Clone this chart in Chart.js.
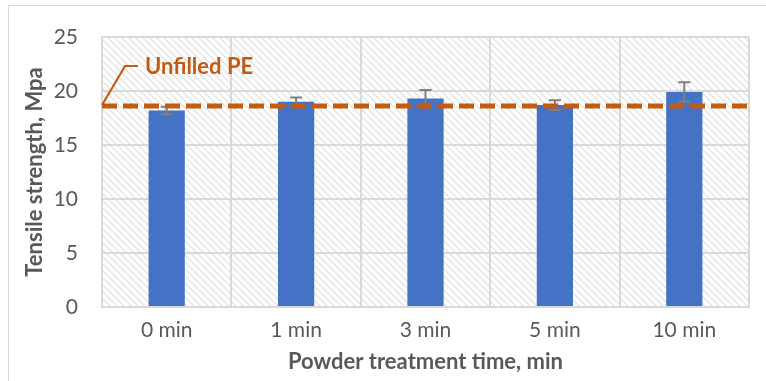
<!DOCTYPE html>
<html>
<head>
<meta charset="utf-8">
<script src="https://cdn.jsdelivr.net/npm/chart.js@4.4.1/dist/chart.umd.min.js"></script>
<style>
  html, body { margin: 0; padding: 0; background: #fff; }
  #wrap { position: relative; width: 766px; height: 381px; overflow: hidden; }
  #frame { position: absolute; left: 8px; top: 5px; width: 800px; height: 420px; border: 1px solid #d9d9d9; box-sizing: border-box; }
  #myChart { position: absolute; left: 0; top: 0; }
</style>
</head>
<body>
<div id="wrap">
  <div id="frame"></div>
  <canvas id="myChart" width="766" height="381"></canvas>
</div>
<script>
var categories = ['0 min', '1 min', '3 min', '5 min', '10 min'];
var strength = [18.2, 19.0, 19.3, 18.7, 19.9];
var strengthErr = [0.35, 0.4, 0.8, 0.45, 0.9];
var unfilledPE = 18.6;
var unfilledLabel = 'Unfilled PE';
var yTicks = [0, 5, 10, 15, 20, 25];

var gridColor = '#d9d9d9';
var textColor = '#595959';
var orange = '#c55a11';

function makeHatch() {
  var c = document.createElement('canvas');
  c.width = 7;
  c.height = 7;
  var g = c.getContext('2d');
  g.fillStyle = '#fff';
  g.fillRect(0, 0, 7, 7);
  g.strokeStyle = '#dedede';
  g.lineWidth = 1.2;
  g.beginPath();
  g.moveTo(-1, -1); g.lineTo(8, 8);
  g.moveTo(-1, 6); g.lineTo(1, 8);
  g.moveTo(6, -1); g.lineTo(8, 1);
  g.stroke();
  return c;
}

// hatched plot background
var hatchPlugin = {
  id: 'hatch',
  beforeDraw: function(chart) {
    var a = chart.chartArea;
    var ctx = chart.ctx;
    ctx.save();
    ctx.fillStyle = ctx.createPattern(makeHatch(), 'repeat');
    ctx.fillRect(a.left, a.top, a.right - a.left, a.bottom - a.top);
    ctx.restore();
  }
};

// error bars + unfilled PE reference line
var extrasPlugin = {
  id: 'extras',
  afterDatasetsDraw: function(chart) {
    var ctx = chart.ctx;
    var y = chart.scales.y;
    var a = chart.chartArea;
    var meta = chart.getDatasetMeta(0);

    ctx.save();
    ctx.strokeStyle = '#7f7f7f';
    ctx.lineWidth = 2;
    meta.data.forEach(function(bar, i) {
      var yt = y.getPixelForValue(strength[i] + strengthErr[i]);
      var yb = y.getPixelForValue(strength[i] - strengthErr[i]);
      ctx.beginPath();
      ctx.moveTo(bar.x, yt); ctx.lineTo(bar.x, yb);
      ctx.moveTo(bar.x - 6, yt); ctx.lineTo(bar.x + 6, yt);
      ctx.moveTo(bar.x - 6, yb); ctx.lineTo(bar.x + 6, yb);
      ctx.stroke();
    });

    var yl = y.getPixelForValue(unfilledPE);
    ctx.strokeStyle = orange;
    ctx.lineWidth = 5;
    ctx.setLineDash([15, 6]);
    ctx.beginPath();
    ctx.moveTo(a.left, yl);
    ctx.lineTo(a.right, yl);
    ctx.stroke();

    ctx.setLineDash([]);
    ctx.lineWidth = 2;
    ctx.beginPath();
    ctx.moveTo(a.left, yl - 1);
    ctx.lineTo(a.left + 23, yl - 40);
    ctx.lineTo(a.left + 36, yl - 40);
    ctx.stroke();

    ctx.fillStyle = orange;
    ctx.font = 'bold 22px Lato';
    ctx.textBaseline = 'middle';
    ctx.fillText(unfilledLabel, a.left + 43, yl - 39);
    ctx.restore();
  }
};

var ctx = document.getElementById('myChart').getContext('2d');
var myChart = new Chart(ctx, {
  type: 'bar',
  data: {
    labels: categories,
    datasets: [{
      label: 'Tensile strength',
      data: strength,
      backgroundColor: '#4472c4',
      borderWidth: 0,
      categoryPercentage: 1,
      barPercentage: 0.28
    }]
  },
  options: {
    responsive: false,
    animation: false,
    events: [],
    layout: { padding: { left: 8, top: 37, right: 17, bottom: 0 } },
    plugins: { legend: { display: false }, tooltip: { enabled: false } },
    scales: {
      x: {
        grid: { color: gridColor, lineWidth: 2, drawTicks: false, offset: true },
        border: { color: gridColor, width: 2 },
        ticks: { color: textColor, font: { family: 'Lato', size: 21 }, padding: 11 },
        title: {
          display: true, text: 'Powder treatment time, min', color: textColor,
          font: { family: 'Lato', size: 22, weight: 'bold' }, padding: { top: 0, bottom: 6 }
        },
        afterFit: function(s) { s.height = 74; }
      },
      y: {
        min: 0, max: 25,
        afterBuildTicks: function(s) { s.ticks = yTicks.map(function(v) { return { value: v }; }); },
        grid: { color: gridColor, lineWidth: 2, drawTicks: false },
        border: { color: gridColor, width: 2 },
        ticks: { color: textColor, font: { family: 'Lato', size: 21 }, padding: 24 },
        title: {
          display: true, text: 'Tensile strength, Mpa', color: textColor,
          font: { family: 'Lato', size: 22, weight: 'bold' }, padding: { top: 14, bottom: 0 }
        },
        afterFit: function(s) { s.width = 94; }
      }
    }
  },
  plugins: [hatchPlugin, extrasPlugin]
});
</script>
</body>
</html>
